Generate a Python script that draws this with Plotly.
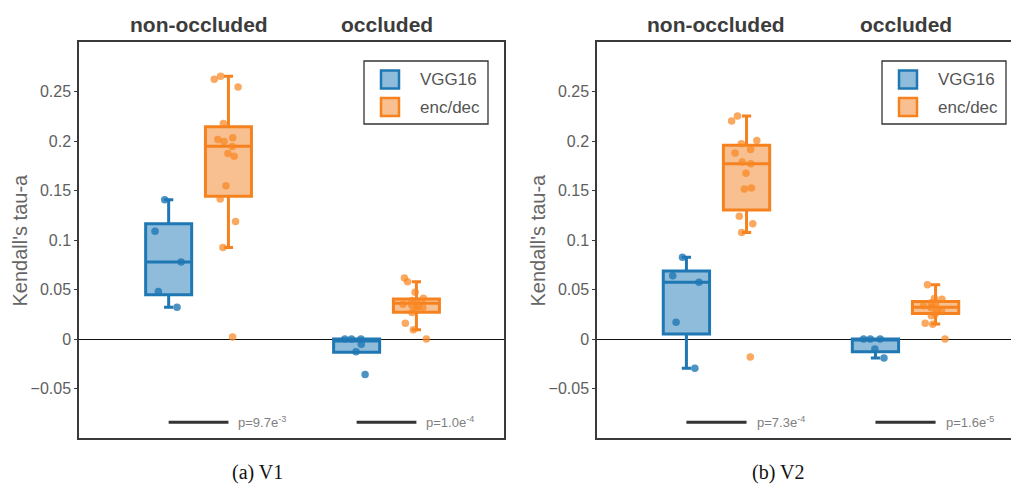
import plotly.graph_objects as go

W, H = 1011, 485

conditions = ["non-occluded", "occluded"]
models = ["VGG16", "enc/dec"]
panels = ["(a) V1", "(b) V2"]
y_title = "Kendall's tau-a"
tick_vals = [-0.05, 0, 0.05, 0.1, 0.15, 0.2, 0.25]
tick_text = ["\u22120.05", "0", "0.05", "0.1", "0.15", "0.2", "0.25"]

# ---- V1 raw points ----
v1_vgg_nonocc = [0.1406, 0.1088, 0.0778, 0.0480, 0.0321]
v1_vgg_occ = [0.0, 0.0, 0.0, -0.0054, -0.0128, -0.0358]
v1_enc_nonocc = [0.2654, 0.2624, 0.2546, 0.2177, 0.2032, 0.2015, 0.1995, 0.1944,
                 0.1873, 0.1846, 0.1549, 0.1413, 0.1187, 0.0923, 0.0020]
v1_enc_occ = [0.0615, 0.0578, 0.0473, 0.0412, 0.0390, 0.0370, 0.0350, 0.0340,
              0.0328, 0.0318, 0.0300, 0.0267, 0.0159, 0.0094, 0.0]
# ---- V2 raw points ----
v2_vgg_nonocc = [0.0826, 0.0640, 0.0572, 0.0169, -0.0295]
v2_vgg_occ = [0.0, 0.0, 0.0, -0.0102, -0.0193]
v2_enc_nonocc = [0.2252, 0.2201, 0.2005, 0.1971, 0.1913, 0.1880, 0.1789, 0.1771,
                 0.1673, 0.1524, 0.1514, 0.1240, 0.1165, 0.1077, -0.0183]
v2_enc_occ = [0.0549, 0.0410, 0.0402, 0.0366, 0.0350, 0.0335, 0.0315, 0.0300,
              0.0290, 0.0254, 0.0234, 0.0159, 0.0148, 0.0]

# ---- box statistics (per condition: non-occluded, occluded) ----
v1_vgg_q1 = [0.0446, -0.0135]; v1_vgg_med = [0.0778, -0.0020]; v1_vgg_q3 = [0.1163, 0.0]
v1_vgg_lo = [0.0321, -0.0135]; v1_vgg_hi = [0.1406, 0.0]
v1_enc_q1 = [0.1443, 0.0270]; v1_enc_med = [0.1947, 0.0360]; v1_enc_q3 = [0.2143, 0.0403]
v1_enc_lo = [0.0923, 0.0094]; v1_enc_hi = [0.2654, 0.0578]

v2_vgg_q1 = [0.0051, -0.0129]; v2_vgg_med = [0.0572, -0.0010]; v2_vgg_q3 = [0.0687, 0.0]
v2_vgg_lo = [-0.0295, -0.0193]; v2_vgg_hi = [0.0826, 0.0]
v2_enc_q1 = [0.1304, 0.0258]; v2_enc_med = [0.1771, 0.0320]; v2_enc_q3 = [0.1957, 0.0380]
v2_enc_lo = [0.1077, 0.0152]; v2_enc_hi = [0.2252, 0.0547]

# p-values per panel (non-occluded, occluded): mantissa, exponent
v1_p = [("9.7", "-3"), ("1.0", "-4")]
v2_p = [("7.3", "-4"), ("1.6", "-5")]

# ---- styles ----
line_col = {"VGG16": "#1f77b4", "enc/dec": "#f5821f"}
fill_col = {"VGG16": "#8fbcdb", "enc/dec": "#f8c091"}
pt_col = {"VGG16": "rgba(31,119,180,0.8)", "enc/dec": "rgba(250,135,35,0.72)"}
SANS = "Liberation Sans, Arial, sans-serif"
BOXGAP = 0.364
BOXGROUPGAP = 0.23

panel_data = [
    dict(pts={"VGG16": (v1_vgg_nonocc, v1_vgg_occ), "enc/dec": (v1_enc_nonocc, v1_enc_occ)},
         stats={"VGG16": (v1_vgg_q1, v1_vgg_med, v1_vgg_q3, v1_vgg_lo, v1_vgg_hi),
                "enc/dec": (v1_enc_q1, v1_enc_med, v1_enc_q3, v1_enc_lo, v1_enc_hi)},
         p=v1_p),
    dict(pts={"VGG16": (v2_vgg_nonocc, v2_vgg_occ), "enc/dec": (v2_enc_nonocc, v2_enc_occ)},
         stats={"VGG16": (v2_vgg_q1, v2_vgg_med, v2_vgg_q3, v2_vgg_lo, v2_vgg_hi),
                "enc/dec": (v2_enc_q1, v2_enc_med, v2_enc_q3, v2_enc_lo, v2_enc_hi)},
         p=v2_p),
]

# layout geometry in pixels
plot_px = [dict(x0=79, x1=504, xr=[-0.636, 1.625], mirror=True),
           dict(x0=597, x1=1011, xr=[-0.632, 1.558], mirror=False)]
top_px, bot_px = 42, 438


def px(x):
    return x / W


def py(y):
    return 1 - y / H


fig = go.Figure()
shapes = []
annotations = []

for i, pdict in enumerate(panel_data):
    sfx = "" if i == 0 else str(i + 1)
    xa, ya = "x" + sfx, "y" + sfx
    # boxes
    for m in models:
        q1, med, q3, lo, hi = pdict["stats"][m]
        fig.add_trace(go.Box(
            x=conditions, q1=q1, median=med, q3=q3, lowerfence=lo, upperfence=hi,
            name=m, offsetgroup=m, xaxis=xa, yaxis=ya,
            fillcolor=fill_col[m], line=dict(color=line_col[m], width=3),
            whiskerwidth=0.2, boxpoints=False, showlegend=False, hoverinfo="skip"))
    # jittered points
    for m in models:
        a, b = pdict["pts"][m]
        fig.add_trace(go.Box(
            x=[conditions[0]] * len(a) + [conditions[1]] * len(b), y=list(a) + list(b),
            name=m, offsetgroup=m, xaxis=xa, yaxis=ya,
            boxpoints="all", jitter=0.7, pointpos=0,
            fillcolor="rgba(0,0,0,0)", line=dict(color="rgba(0,0,0,0)", width=0),
            marker=dict(color=pt_col[m], size=7.5, line=dict(width=0)),
            showlegend=False, hoverinfo="skip"))

    g = plot_px[i]
    fig.update_layout(**{
        "xaxis" + sfx: dict(domain=[px(g["x0"]), px(g["x1"])], type="category",
                            categoryorder="array", categoryarray=conditions,
                            range=g["xr"], showticklabels=False, ticks="",
                            showgrid=False, zeroline=False, showline=True,
                            linecolor="#3a3a3a", linewidth=1.5, mirror=True,
                            anchor=ya, fixedrange=True),
        "yaxis" + sfx: dict(domain=[py(bot_px), py(top_px)], range=[-0.1, 0.3],
                            tickvals=tick_vals, ticktext=tick_text,
                            tickfont=dict(family=SANS, size=16, color="#5e5e5e"),
                            ticks="outside", ticklen=3, tickcolor="#3a3a3a",
                            showgrid=False, zeroline=True, zerolinecolor="#111111",
                            zerolinewidth=1.3, showline=True, linecolor="#3a3a3a",
                            linewidth=1.5, mirror=g["mirror"], anchor=xa,
                            fixedrange=True),
    })

    # significance bars and p-values
    off = (1 - BOXGAP) / 4
    for j, cond in enumerate(conditions):
        shapes.append(dict(type="line", xref=xa, yref=ya, x0=j - off, x1=j + off,
                           y0=-0.084, y1=-0.084, line=dict(color="#333333", width=3)))
        mant, ex = pdict["p"][j]
        annotations.append(dict(xref=xa, yref=ya, x=j + off, y=-0.084, xshift=8,
                                xanchor="left", yanchor="middle", showarrow=False,
                                text=f"p={mant}e<sup>{ex}</sup>",
                                font=dict(family=SANS, size=13, color="#808080")))
        annotations.append(dict(xref=xa, yref="paper", x=cond, y=py(24),
                                xanchor="center", yanchor="middle", showarrow=False,
                                text=f"<b>{cond}</b>",
                                font=dict(family=SANS, size=21, color="#3c3c3c")))

    # y axis title
    annotations.append(dict(xref="paper", yref="paper", x=px(g["x0"] - 59.5),
                            y=py((top_px + bot_px) / 2), textangle=-90,
                            xanchor="center", yanchor="middle", showarrow=False,
                            text=y_title,
                            font=dict(family=SANS, size=20, color="#666666")))

    # legend (drawn box with patches)
    lx = g["x0"] + 285
    shapes.append(dict(type="rect", xref="paper", yref="paper",
                       x0=px(lx), x1=px(lx + 124), y0=py(124), y1=py(61),
                       line=dict(color="#333333", width=1.3), fillcolor="white"))
    for k, m in enumerate(models):
        yc = 79.5 + 27.5 * k
        shapes.append(dict(type="rect", xref="paper", yref="paper",
                           x0=px(lx + 17), x1=px(lx + 35), y0=py(yc + 9), y1=py(yc - 9),
                           line=dict(color=line_col[m], width=2.5),
                           fillcolor=fill_col[m]))
        annotations.append(dict(xref="paper", yref="paper", x=px(lx + 54), y=py(yc),
                                xanchor="left", yanchor="middle", showarrow=False,
                                text=m, font=dict(family=SANS, size=17, color="#555555")))

    # panel caption
    cx = [257, 777.5][i]
    annotations.append(dict(xref="paper", yref="paper", x=px(cx), y=py(472),
                            xanchor="center", yanchor="middle", showarrow=False,
                            text=panels[i],
                            font=dict(family="Liberation Serif, Times New Roman, serif",
                                      size=20, color="#111111")))

fig.update_layout(
    width=W, height=H, margin=dict(l=0, r=0, t=0, b=0),
    paper_bgcolor="white", plot_bgcolor="white",
    boxmode="group", boxgap=BOXGAP, boxgroupgap=BOXGROUPGAP,
    showlegend=False, hovermode=False,
    shapes=shapes, annotations=annotations,
)

fig.write_html("out.html")
